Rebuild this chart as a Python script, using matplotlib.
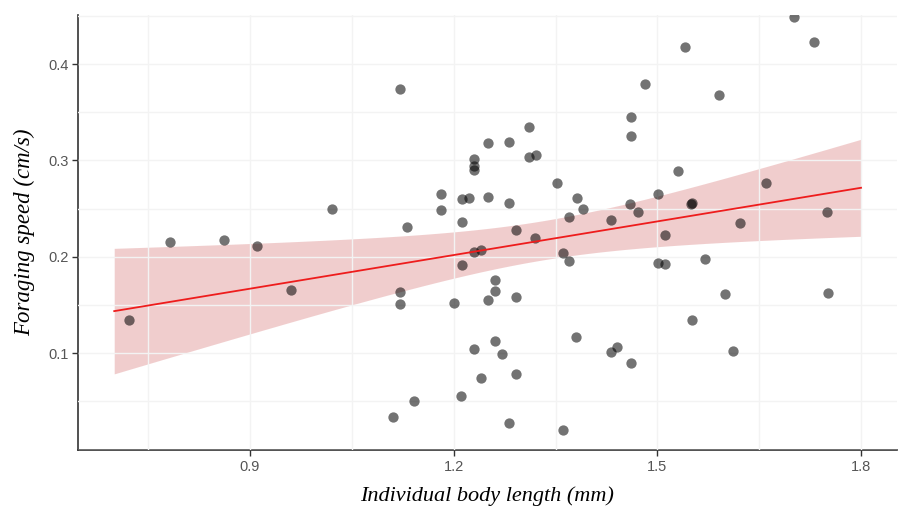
import numpy as np
import matplotlib
matplotlib.use("Agg")
import matplotlib.pyplot as plt
from matplotlib.ticker import MultipleLocator

# body length (mm) and foraging speed (cm/s)
body_length = [
    0.722, 0.782, 0.862, 0.910, 0.960, 1.021, 1.121, 1.131, 1.121, 1.121,
    1.111, 1.142, 1.181, 1.181, 1.200, 1.212, 1.223, 1.230, 1.230, 1.230,
    1.251, 1.251, 1.281, 1.281, 1.311, 1.311, 1.321, 1.352, 1.382, 1.390,
    1.212, 1.292, 1.320, 1.230, 1.240, 1.361, 1.370, 1.212, 1.261, 1.261,
    1.251, 1.292, 1.380, 1.261, 1.230, 1.271, 1.240, 1.292, 1.211, 1.281,
    1.361, 1.701, 1.731, 1.541, 1.482, 1.591, 1.461, 1.461, 1.530, 1.660,
    1.501, 1.460, 1.471, 1.432, 1.551, 1.550, 1.622, 1.750, 1.511, 1.501,
    1.511, 1.570, 1.600, 1.751, 1.551, 1.432, 1.440, 1.461, 1.611, 1.370,
]
foraging_speed = [
    0.134, 0.215, 0.217, 0.211, 0.166, 0.250, 0.374, 0.231, 0.164, 0.151,
    0.034, 0.050, 0.265, 0.249, 0.152, 0.260, 0.261, 0.302, 0.294, 0.290,
    0.318, 0.262, 0.319, 0.256, 0.335, 0.304, 0.306, 0.277, 0.261, 0.250,
    0.236, 0.228, 0.220, 0.205, 0.207, 0.204, 0.196, 0.192, 0.176, 0.165,
    0.155, 0.158, 0.117, 0.113, 0.104, 0.099, 0.074, 0.078, 0.056, 0.028,
    0.020, 0.449, 0.423, 0.418, 0.379, 0.368, 0.345, 0.325, 0.289, 0.277,
    0.265, 0.255, 0.247, 0.238, 0.256, 0.255, 0.235, 0.247, 0.223, 0.194,
    0.193, 0.198, 0.161, 0.163, 0.134, 0.101, 0.106, 0.090, 0.102, 0.241,
]
x_ticks = [0.9, 1.2, 1.5, 1.8]
y_ticks = [0.1, 0.2, 0.3, 0.4]

x = np.array(body_length)
y = np.array(foraging_speed)

# linear fit with 95% confidence band
n = len(x)
slope, intercept = np.polyfit(x, y, 1)
resid = y - (slope * x + intercept)
s = np.sqrt(np.sum(resid**2) / (n - 2))
xs = np.linspace(0.70, 1.80, 200)
ys = slope * xs + intercept
se = s * np.sqrt(1 / n + (xs - x.mean())**2 / np.sum((x - x.mean())**2))
t = 1.99

fig = plt.figure(figsize=(8.99, 5.08), dpi=100)
ax = fig.add_axes([0.0868, 0.1142, 0.911, 0.856])

ax.fill_between(xs, ys - t * se, ys + t * se, color="#d46a6a", alpha=0.33,
                linewidth=0, zorder=1)
ax.plot(xs, ys, color="#ee1c1c", linewidth=1.3, zorder=4)
ax.scatter(x, y, s=55, color="black", alpha=0.55, linewidths=0, zorder=3)

ax.set_xlim(0.6467, 1.853)
ax.set_ylim(-0.0004, 0.4508)
ax.set_xticks(x_ticks)
ax.set_xticklabels([f"{v:.1f}" for v in x_ticks])
ax.set_yticks(y_ticks)
ax.set_yticklabels([f"{v:.1f}" for v in y_ticks])
ax.xaxis.set_minor_locator(MultipleLocator(0.15))
ax.yaxis.set_minor_locator(MultipleLocator(0.05))

ax.grid(True, which="both", color="#f3f3f3", linewidth=1.0, zorder=2)
ax.set_axisbelow(False)
for side in ["top", "right"]:
    ax.spines[side].set_visible(False)
for side in ["left", "bottom"]:
    ax.spines[side].set_color("#333333")
    ax.spines[side].set_linewidth(1.2)

ax.tick_params(which="major", length=4, width=1, color="#333333",
               labelcolor="#555555", labelsize=10.5, pad=3)
ax.tick_params(which="minor", length=0)
for lab in ax.get_xticklabels() + ax.get_yticklabels():
    lab.set_family("Liberation Sans")

ax.set_xlabel("Individual body length (mm)", family="Liberation Serif",
              style="italic", fontsize=16, labelpad=9)
ax.set_ylabel("Foraging speed (cm/s)", family="Liberation Serif",
              style="italic", fontsize=16.5, labelpad=9)

fig.savefig("out.png", dpi=100)
